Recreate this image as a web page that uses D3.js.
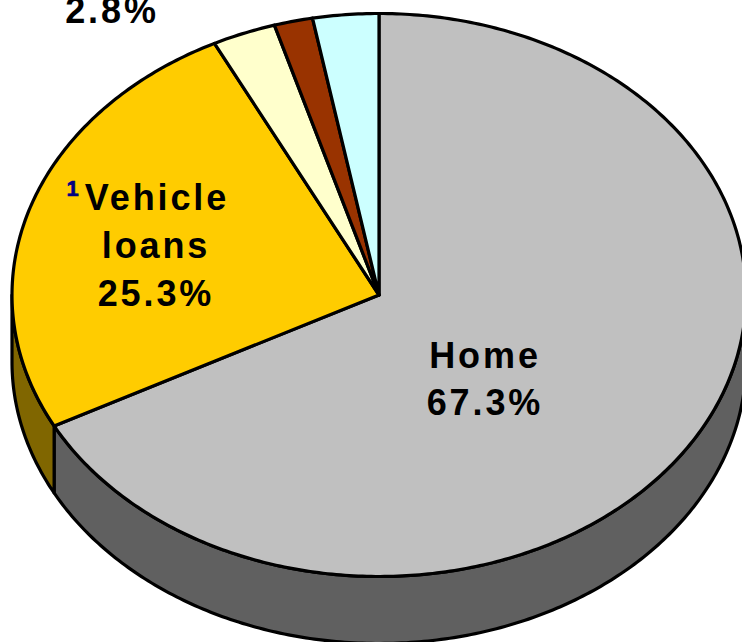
<!DOCTYPE html>
<html><head><meta charset="utf-8">
<script src="https://cdn.jsdelivr.net/npm/d3@7"></script>
<style>html,body{margin:0;padding:0;background:#fff}svg{display:block}
text{font-family:"Liberation Sans",Arial,sans-serif;font-weight:700;fill:#000;font-size:36px;letter-spacing:2.9px;text-anchor:middle}</style>
</head><body><svg id="c" width="742" height="642"></svg>
<script>
const categories = ["Home","Vehicle loans","Other A","Other B","Other C"];
const shares = [67.3,25.3,2.8,1.7,2.9];
const topColors = ["#c0c0c0","#ffcc00","#ffffcc","#993300","#ccffff"];
const wallColors = ["#606060","#806600","#808066","#4d1a00","#668080"];
const cx=379, cy=295, rx=367, ry=281.5, depth=67;
const svg=d3.select("#c");
const pie=d3.pie().sort(null).value(d=>d)(shares);
const X=d3.scaleLinear().domain([-1,1]).range([cx-rx,cx+rx]);
const Y=d3.scaleLinear().domain([-1,1]).range([cy-ry,cy+ry]);
const line=d3.line();
const pt=(a,dz=0)=>[X(Math.sin(a)),Y(-Math.cos(a))+dz];
const samples=(a0,a1,dz=0)=>{const n=Math.max(2,Math.ceil((a1-a0)/0.012));return d3.range(n+1).map(i=>pt(a0+(a1-a0)*i/n,dz));};
const front0=Math.PI/2, front1=Math.PI*1.5;
pie.forEach((p,i)=>{
  const a0=Math.max(p.startAngle,front0), a1=Math.min(p.endAngle,front1);
  if(a1<=a0) return;
  const pts=samples(a0,a1).concat(samples(a0,a1,depth).reverse());
  svg.append("path").attr("d",line(pts)+"Z").attr("fill",wallColors[i]).attr("stroke","#000").attr("stroke-width",3.2).attr("stroke-linejoin","round");
});
pie.forEach((p,i)=>{
  const pts=[[cx,cy]].concat(samples(p.startAngle,p.endAngle));
  svg.append("path").attr("d",line(pts)+"Z").attr("fill",topColors[i]).attr("stroke","#000").attr("stroke-width",3.2).attr("stroke-linejoin","round");
});
const labels=[["Home",485,368],["67.3%",485,415],["Vehicle",157,210],["loans",156,258],["25.3%",156,306],["2.8%",112,23]];
labels.forEach(l=>svg.append("text").attr("x",l[1]).attr("y",l[2]).text(l[0]));
svg.append("text").attr("x",72.5).attr("y",196).style("font-size","22px").style("fill","#000080").style("letter-spacing","0").style("stroke","#000080").style("stroke-width","0.6px").text("1");
</script></body></html>
